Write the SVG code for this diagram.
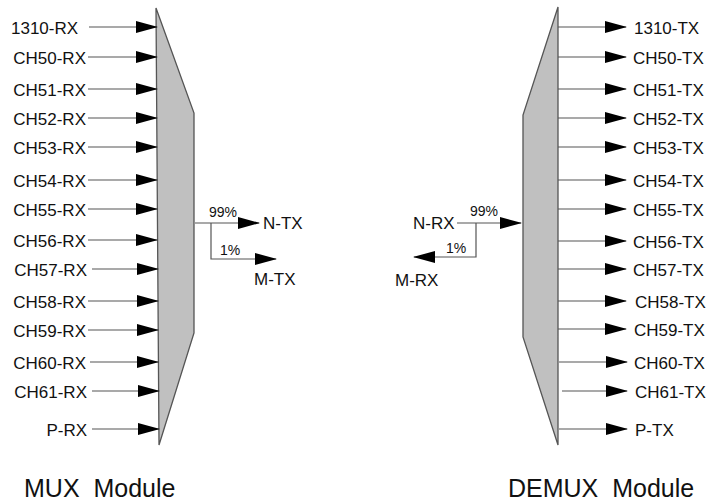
<svg xmlns="http://www.w3.org/2000/svg" width="712" height="504" viewBox="0 0 712 504">
<style>
.lbl{font-family:"Liberation Sans",Arial,sans-serif;font-size:17px;fill:#111}
.pct{font-family:"Liberation Sans",Arial,sans-serif;font-size:14px;fill:#111}
.title{font-family:"Liberation Sans",Arial,sans-serif;font-size:25px;fill:#111}
.ln{stroke:#555;stroke-width:1.2;fill:none;marker-end:url(#ah)}
.ln2{stroke:#555;stroke-width:1.2;fill:none}
.blk{fill:#c0c0c0;stroke:#555;stroke-width:1.3}
</style>
<defs>
<marker id="ah" markerUnits="userSpaceOnUse" markerWidth="22" markerHeight="12" refX="21" refY="6" orient="auto">
<path d="M0,0 L22,6 L0,12 z" fill="#000"/>
</marker>
</defs>
<rect width="712" height="504" fill="#fff"/>
<g id="mux">
<polygon class="blk" points="156,8 194,113 194,333 159,445"/>
</g>
<g id="demux">
<polygon class="blk" points="558,7 523,115 523,337 558,445"/>
</g>
<g id="connectors">
<line class="ln" x1="89" y1="27" x2="157" y2="27"/>
<line class="ln" x1="88" y1="57" x2="157" y2="57"/>
<line class="ln" x1="88" y1="89" x2="157" y2="89"/>
<line class="ln" x1="88" y1="118" x2="157" y2="118"/>
<line class="ln" x1="88" y1="147" x2="157" y2="147"/>
<line class="ln" x1="88" y1="180" x2="157" y2="180"/>
<line class="ln" x1="88" y1="209" x2="157" y2="209"/>
<line class="ln" x1="88" y1="240" x2="157" y2="240"/>
<line class="ln" x1="92" y1="269" x2="158" y2="269"/>
<line class="ln" x1="88" y1="301" x2="158" y2="301"/>
<line class="ln" x1="88" y1="330" x2="158" y2="330"/>
<line class="ln" x1="90" y1="362" x2="158" y2="362"/>
<line class="ln" x1="92" y1="391" x2="159" y2="391"/>
<line class="ln" x1="92" y1="429" x2="159" y2="429"/>
<line class="ln" x1="195" y1="223" x2="259" y2="223"/>
<polyline class="ln" points="211,223 211,259 276,259"/>
<line class="ln" x1="558" y1="27" x2="626" y2="27"/>
<line class="ln" x1="558" y1="57" x2="626" y2="57"/>
<line class="ln" x1="558" y1="89" x2="626" y2="89"/>
<line class="ln" x1="558" y1="118" x2="626" y2="118"/>
<line class="ln" x1="558" y1="147" x2="626" y2="147"/>
<line class="ln" x1="558" y1="180" x2="626" y2="180"/>
<line class="ln" x1="558" y1="209" x2="626" y2="209"/>
<line class="ln" x1="558" y1="241" x2="626" y2="241"/>
<line class="ln" x1="558" y1="269" x2="626" y2="269"/>
<line class="ln" x1="558" y1="301" x2="626" y2="301"/>
<line class="ln" x1="558" y1="329" x2="626" y2="329"/>
<line class="ln" x1="559" y1="362" x2="627" y2="362"/>
<line class="ln" x1="562" y1="391" x2="627" y2="391"/>
<line class="ln" x1="559" y1="429" x2="627" y2="429"/>
<line class="ln" x1="457" y1="223" x2="521" y2="223"/>
<polyline class="ln" points="476,223 476,257 414,257"/>
</g>
<g id="mux-labels">
<text class="lbl" x="11" y="34">1310-RX</text>
<text class="lbl" x="86" y="64" text-anchor="end">CH50-RX</text>
<text class="lbl" x="86" y="96" text-anchor="end">CH51-RX</text>
<text class="lbl" x="86" y="125" text-anchor="end">CH52-RX</text>
<text class="lbl" x="86" y="154" text-anchor="end">CH53-RX</text>
<text class="lbl" x="86" y="187" text-anchor="end">CH54-RX</text>
<text class="lbl" x="86" y="216" text-anchor="end">CH55-RX</text>
<text class="lbl" x="86" y="247" text-anchor="end">CH56-RX</text>
<text class="lbl" x="87" y="276" text-anchor="end">CH57-RX</text>
<text class="lbl" x="86" y="308" text-anchor="end">CH58-RX</text>
<text class="lbl" x="86" y="337" text-anchor="end">CH59-RX</text>
<text class="lbl" x="86" y="369" text-anchor="end">CH60-RX</text>
<text class="lbl" x="87" y="398" text-anchor="end">CH61-RX</text>
<text class="lbl" x="87" y="436" text-anchor="end">P-RX</text>
<text class="pct" x="209" y="217">99%</text>
<text class="lbl" x="263" y="229">N-TX</text>
<text class="pct" x="220" y="255">1%</text>
<text class="lbl" x="254" y="285">M-TX</text>
<text class="title" x="24" y="497" xml:space="preserve">MUX  Module</text>
</g>
<g id="demux-labels">
<text class="lbl" x="634" y="34">1310-TX</text>
<text class="lbl" x="633" y="64">CH50-TX</text>
<text class="lbl" x="633" y="96">CH51-TX</text>
<text class="lbl" x="633" y="125">CH52-TX</text>
<text class="lbl" x="633" y="154">CH53-TX</text>
<text class="lbl" x="633" y="187">CH54-TX</text>
<text class="lbl" x="633" y="216">CH55-TX</text>
<text class="lbl" x="633" y="248">CH56-TX</text>
<text class="lbl" x="633" y="276">CH57-TX</text>
<text class="lbl" x="635" y="308">CH58-TX</text>
<text class="lbl" x="634" y="336">CH59-TX</text>
<text class="lbl" x="634" y="369">CH60-TX</text>
<text class="lbl" x="635" y="398">CH61-TX</text>
<text class="lbl" x="635" y="436">P-TX</text>
<text class="lbl" x="413" y="229">N-RX</text>
<text class="pct" x="470" y="216">99%</text>
<text class="pct" x="446" y="253">1%</text>
<text class="lbl" x="395" y="286">M-RX</text>
<text class="title" x="508" y="497" xml:space="preserve">DEMUX  Module</text>
</g>
</svg>
